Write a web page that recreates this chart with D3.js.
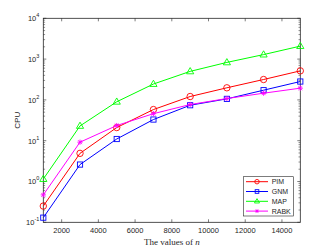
<!DOCTYPE html>
<html>
<head>
<meta charset="utf-8">
<script src="https://cdn.jsdelivr.net/npm/d3@7"></script>
<style>
  body { margin: 0; background: #fff; }
  svg { display: block; }
</style>
</head>
<body>
<svg id="chart" width="332" height="249"></svg>
<script>
var nValues = [1000, 3000, 5000, 7000, 9000, 11000, 13000, 15000];
var seriesNames = ["PIM", "GNM", "MAP", "RABK"];
var pim  = [0.25, 4.9, 21, 58, 121, 198, 316, 515];
var gnm  = [0.13, 2.6, 11, 33, 74, 106, 173, 282];
var map  = [1.15, 23, 90, 245, 500, 830, 1290, 2080];
var rabk = [0.47, 9.2, 23.5, 46, 77, 108, 146, 194];
var xTicks = [2000, 4000, 6000, 8000, 10000, 12000, 14000];
var yTicks = [-1, 0, 1, 2, 3, 4];

var colors = ["#ff0000", "#0000ff", "#00ff00", "#ff00ff"];
var markers = ["circle", "square", "triangle", "star"];
var allSeries = [pim, gnm, map, rabk];

var margin = {top: 18.3, right: 31.7, bottom: 26.7, left: 43.3},
    width = 332 - margin.left - margin.right,
    height = 249 - margin.top - margin.bottom;

var svg = d3.select("#chart")
  .append("g")
  .attr("transform", "translate(" + margin.left + "," + margin.top + ")");

var x = d3.scaleLinear().domain([1000, 15000]).range([0, width]);
var y = d3.scaleLog().domain([0.1, 10000]).range([height, 0]);

var axisColor = "#262626";

// minor ticks
var minor = [];
for (var e = -1; e < 4; e++) {
  for (var k = 2; k < 10; k++) minor.push(k * Math.pow(10, e));
}

// box
svg.append("rect")
  .attr("width", width).attr("height", height)
  .attr("fill", "none").attr("stroke", axisColor).attr("stroke-width", 0.8);

// x ticks (bottom + top), inward
xTicks.forEach(function(t) {
  svg.append("line").attr("x1", x(t)).attr("x2", x(t)).attr("y1", height).attr("y2", height - 3)
    .attr("stroke", axisColor).attr("stroke-width", 0.6);
  svg.append("line").attr("x1", x(t)).attr("x2", x(t)).attr("y1", 0).attr("y2", 3)
    .attr("stroke", axisColor).attr("stroke-width", 0.6);
  svg.append("text").attr("x", x(t)).attr("y", height + 11)
    .attr("text-anchor", "middle")
    .attr("font-family", "Liberation Sans, Arial, sans-serif")
    .attr("font-size", "7.5px").attr("fill", axisColor)
    .text(t);
});

// y major ticks
yTicks.forEach(function(e) {
  var v = Math.pow(10, e);
  [0, width].forEach(function(xx) {
    var dir = xx === 0 ? 1 : -1;
    svg.append("line").attr("x1", xx).attr("x2", xx + dir * 3).attr("y1", y(v)).attr("y2", y(v))
      .attr("stroke", axisColor).attr("stroke-width", 0.6);
  });
  var t = svg.append("text").attr("x", -4).attr("y", y(v) + 3)
    .attr("text-anchor", "end")
    .attr("font-family", "Liberation Sans, Arial, sans-serif")
    .attr("font-size", "7.5px").attr("fill", axisColor);
  t.append("tspan").text("10");
  t.append("tspan").attr("dy", -4).attr("font-size", "5.5px").text(e);
});

// y minor ticks
minor.forEach(function(v) {
  [0, width].forEach(function(xx) {
    var dir = xx === 0 ? 1 : -1;
    svg.append("line").attr("x1", xx).attr("x2", xx + dir * 1.8).attr("y1", y(v)).attr("y2", y(v))
      .attr("stroke", axisColor).attr("stroke-width", 0.5);
  });
});

// labels
svg.append("text")
  .attr("transform", "translate(" + (-23) + "," + (height / 2) + ") rotate(-90)")
  .attr("text-anchor", "middle")
  .attr("font-family", "Liberation Sans, Arial, sans-serif")
  .attr("font-size", "8px").attr("fill", axisColor)
  .text("CPU");

var xl = svg.append("text")
  .attr("x", width / 2).attr("y", height + 23)
  .attr("text-anchor", "middle")
  .attr("font-family", "Liberation Serif, Times New Roman, serif")
  .attr("font-size", "9px").attr("fill", axisColor);
xl.append("tspan").text("The values of ");
xl.append("tspan").attr("font-style", "italic").text("n");

function drawMarker(g, type, cx, cy, color, sc) {
  sc = sc || 1;
  if (type === "circle") {
    g.append("circle").attr("cx", cx).attr("cy", cy).attr("r", 3.2 * sc)
      .attr("fill", "none").attr("stroke", color).attr("stroke-width", 0.9);
  } else if (type === "square") {
    var h = 2.6 * sc;
    g.append("rect").attr("x", cx - h).attr("y", cy - h).attr("width", 2 * h).attr("height", 2 * h)
      .attr("fill", "none").attr("stroke", color).attr("stroke-width", 0.9);
  } else if (type === "triangle") {
    g.append("path")
      .attr("d", "M" + cx + "," + (cy - 3.8 * sc) + "L" + (cx + 3.6 * sc) + "," + (cy + 2.4 * sc) +
        "L" + (cx - 3.6 * sc) + "," + (cy + 2.4 * sc) + "Z")
      .attr("fill", "none").attr("stroke", color).attr("stroke-width", 0.9);
  } else {
    var s = 2.6 * sc;
    g.append("path")
      .attr("d", "M" + (cx - s) + "," + cy + "L" + (cx + s) + "," + cy +
        "M" + cx + "," + (cy - s) + "L" + cx + "," + (cy + s) +
        "M" + (cx - s * 0.75) + "," + (cy - s * 0.75) + "L" + (cx + s * 0.75) + "," + (cy + s * 0.75) +
        "M" + (cx - s * 0.75) + "," + (cy + s * 0.75) + "L" + (cx + s * 0.75) + "," + (cy - s * 0.75))
      .attr("fill", "none").attr("stroke", color).attr("stroke-width", 0.9);
  }
}

var line = d3.line()
  .x(function(d) { return x(d[0]); })
  .y(function(d) { return y(d[1]); });

allSeries.forEach(function(vals, i) {
  var pts = nValues.map(function(n, j) { return [n, vals[j]]; });
  var g = svg.append("g");
  g.append("path").datum(pts).attr("d", line)
    .attr("fill", "none").attr("stroke", colors[i]).attr("stroke-width", 1);
  pts.forEach(function(p) {
    drawMarker(g, markers[i], x(p[0]), y(p[1]), colors[i]);
  });
});

// legend
var lg = svg.append("g").attr("transform", "translate(" + (243.3 - margin.left) + "," + (176.7 - margin.top) + ")");
lg.append("rect").attr("width", 50).attr("height", 39.3)
  .attr("fill", "#fff").attr("stroke", axisColor).attr("stroke-width", 0.6);
seriesNames.forEach(function(name, i) {
  var yy = 5 + i * 9.8;
  lg.append("line").attr("x1", 2.7).attr("x2", 24.7).attr("y1", yy).attr("y2", yy)
    .attr("stroke", colors[i]).attr("stroke-width", 1);
  drawMarker(lg, markers[i], 13.7, yy, colors[i], 0.7);
  lg.append("text").attr("x", 28.4).attr("y", yy + 2.6)
    .attr("font-family", "Liberation Sans, Arial, sans-serif")
    .attr("font-size", "7px").attr("fill", axisColor)
    .text(name);
});
</script>
</body>
</html>
